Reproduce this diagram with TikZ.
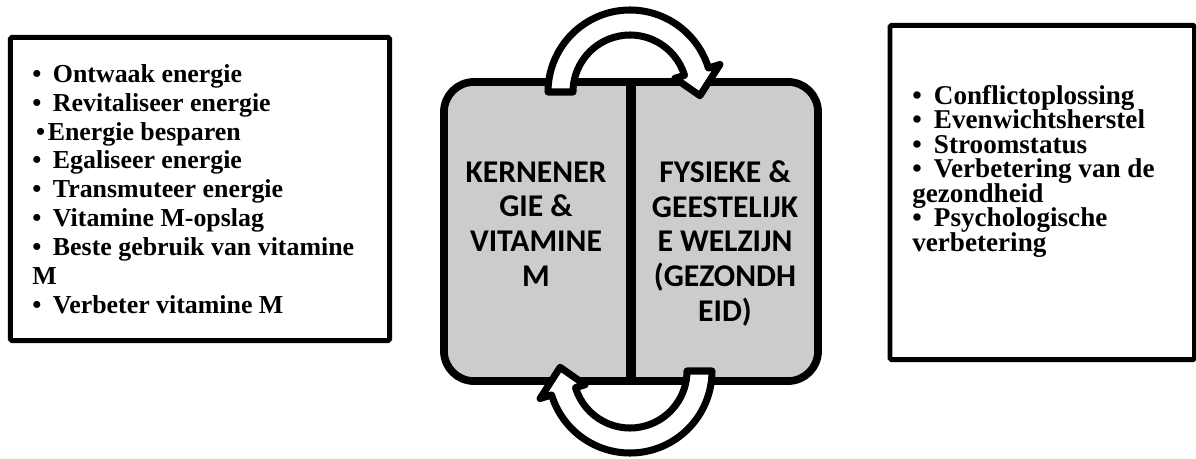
\documentclass[tikz,border=0pt]{standalone}
\usepackage{fontspec}
\setmainfont{Liberation Serif}
\newfontfamily\carlito{Carlito}
\usepackage{tikz}
\definecolor{coregray}{RGB}{204,204,204}
\setlength{\lineskiplimit}{-100pt}
\newcommand{\listdot}{•\hspace{0.45em}}
\tikzset{
  listbox/.style={
    draw, line width=3.5pt, rounded corners=1pt, fill=white, inner sep=0pt
  },
  listtext/.style={
    align=left, inner sep=0pt, anchor=base west,
    font=\bfseries\fontsize{18.4}{20.5}\selectfont
  },
  corebox/.style={
    draw, line width=5.5pt, rounded corners=0.75cm, fill=coregray, inner sep=0pt
  },
  coretext/.style={
    align=center, inner sep=0pt, anchor=base,
    font=\carlito\bfseries\fontsize{22.5}{24.8}\selectfont
  },
  arrowline/.style={
    draw, fill=white, line width=5pt, line join=round
  },
  cyclearrow/.pic={
    \path[arrowline] (180:82) arc[start angle=180, end angle=17, radius=82]
      -- (17:94) -- (-3:70) -- (17:47) -- (17:57)
      arc[start angle=17, end angle=180, radius=57] -- cycle;
  },
}

\begin{document}
\begin{tikzpicture}[x=0.025cm, y=0.025cm]
  \useasboundingbox (0, 0) rectangle (1196, -459);

  % === Left list ===
  \node[listbox, minimum width=9.475cm, minimum height=7.575cm] (energybox) at (200, -189) {};
  \node[listtext] (energylist) at (32, -313)
    {\listdot Ontwaak energie\\
    \listdot Revitaliseer energie\\
    \hspace{0.15em}•\hspace{0.1em}Energie besparen\\
    \listdot Egaliseer energie\\
    \listdot Transmuteer energie\\
    \listdot Vitamine M-opslag\\
    \listdot Beste gebruik van vitamine\\
    M\\
    \listdot Verbeter vitamine M};

  % === Right list ===
  \node[listbox, minimum width=7.6125cm, minimum height=8.35cm] (healthbox) at (1042.25, -192.5) {};
  \node[listtext, font=\bfseries\fontsize{19.3}{17.4}\selectfont] (healthlist) at (912, -251)
    {\listdot Conflictoplossing\\
    \listdot Evenwichtsherstel\\
    \listdot Stroomstatus\\
    \listdot Verbetering van de\\
    gezondheid\\
    \listdot Psychologische\\
    verbetering};

  % === Core block ===
  \node[corebox, minimum width=9.35cm, minimum height=7.475cm] (core) at (631, -231.5) {};
  \draw[line width=7.8pt] (core.north) -- (core.south);
  \node[coretext] (coreleft) at (536, -286.7)
    {KERNENER\\ GIE \&\\ VITAMINE\\ M};
  \node[coretext] (coreright) at (725, -321.7)
    {FYSIEKE \&\\ GEESTELIJK\\ E WELZIJN\\ (GEZONDH\\ EID)};

  % === Cycle arrows ===
  \pic at (630, -92) {cyclearrow};
  \pic[rotate=180] at (630, -371) {cyclearrow};

\end{tikzpicture}
\end{document}
